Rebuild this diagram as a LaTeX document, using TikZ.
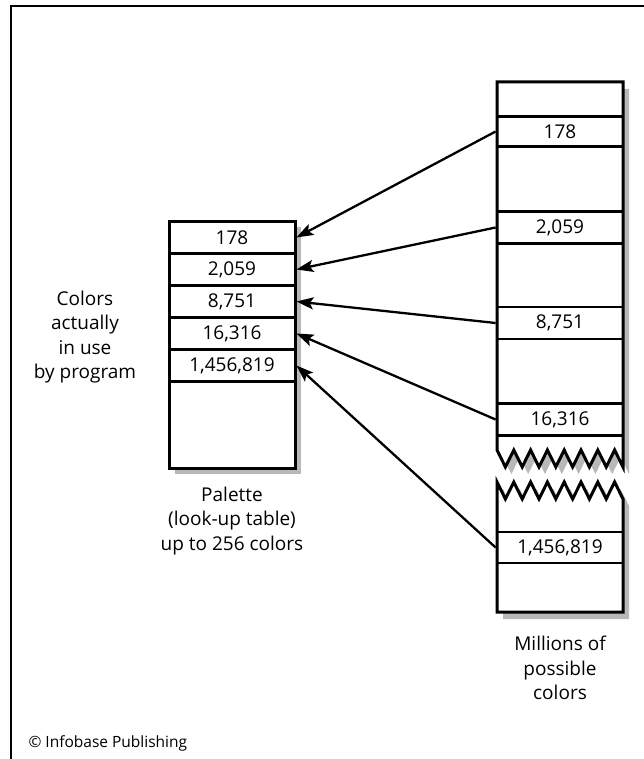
\documentclass[tikz,border=0pt]{standalone}
\usepackage{fontspec}
\setmainfont{Open Sans}
\usetikzlibrary{arrows.meta,positioning}

\definecolor{shadowgray}{HTML}{B8B8B8}

% outline of the two parts of the big colour column
\newcommand{\colupper}{(497,82) -- (623,82) -- (623,467)
  \foreach \i in {14,13,...,0} {-- ({497+8.4*\i},{ifthenelse(mod(\i,2)==1,467,450)})} -- cycle}
\newcommand{\collower}{(497,482)
  \foreach \i in {1,...,15} {-- ({497+8.4*\i},{ifthenelse(mod(\i,2)==1,499,482)})} -- (623,612) -- (497,612) -- cycle}

\begin{document}
\begin{tikzpicture}[x=1pt,y=-1pt,
  cell/.style={draw,line width=2.8pt,minimum width=126pt,minimum height=32pt,inner sep=0pt,
    font=\fontsize{19}{23}\selectfont},
  outline/.style={draw,fill=white,line width=3pt,line join=miter},
  label/.style={align=center,font=\fontsize{19}{24.5}\selectfont},
  pointer/.style={line width=2.3pt,-{Stealth[length=17pt,width=12pt,inset=3.5pt]}}]

\useasboundingbox (0,0) rectangle (644,759);
\draw[line width=1.5pt] (11,759) -- (11,6) -- (644,6);

% palette
\fill[shadowgray] (175,227) rectangle (301,474);
\draw[outline] (169,221) rectangle (295,468);
\foreach \n/\v [count=\k] in {178/178,2059/{2,059},8751/{8,751},16316/{16,316},1456819/{1,456,819}}
  \node[cell] (p\n) at (232,{205.5+32*\k}) {\v};

% millions of colours
\fill[shadowgray,shift={(6,7)}] \colupper;
\fill[shadowgray,shift={(6,7)}] \collower;
\draw[outline] \colupper;
\draw[outline] \collower;
\node[cell,minimum height=30pt] (m178) at (560,131.5) {178};
\node[cell,minimum height=32pt] (m2059) at (560,227.5) {2,059};
\node[cell,minimum height=32pt] (m8751) at (560,323) {8,751};
\node[cell,minimum height=32pt] (m16316) at (560,419.5) {16,316};
\node[cell,minimum height=31pt] (m1456819) at (560,547.5) {1,456,819};

\foreach \n in {178,2059,8751,16316,1456819}
  \draw[pointer] (m\n.west) -- (p\n.east);

% texts
\node[label] (inuse) at (85,337) {Colors\\actually\\in use\\by program};
\node[label] (palette) at (232,521) {Palette\\(look-up table)\\up to 256 colors};
\node[label] (millions) at (560,668) {Millions of\\possible\\colors};
\node[anchor=west,font=\fontsize{15.5}{18}\selectfont] (credit) at (25,743) {© Infobase Publishing};

\end{tikzpicture}
\end{document}
